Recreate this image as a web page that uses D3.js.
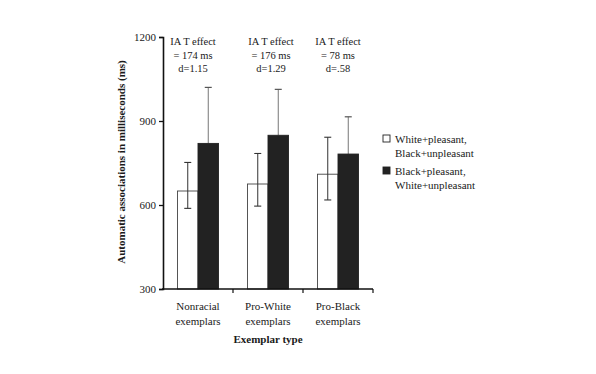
<!DOCTYPE html>
<html>
<head>
<meta charset="utf-8">
<script src="https://cdn.jsdelivr.net/npm/d3@7"></script>
<style>
  body { margin: 0; background: #fff; }
  text { font-family: "Liberation Serif", "Times New Roman", serif; fill: #1a1a1a; }
</style>
</head>
<body>
<svg id="chart" width="596" height="374"></svg>
<script>
// data
const categories = ["Nonracial exemplars", "Pro-White exemplars", "Pro-Black exemplars"];
const series = ["White+pleasant, Black+unpleasant", "Black+pleasant, White+unpleasant"];
const congruent = [650, 675, 710];        // white bars
const incongruent = [820, 849, 782];      // black bars
const congruentLow = [588, 596, 618];
const congruentHigh = [752, 784, 842];
const incongruentHigh = [1020, 1013, 915];
const effects = [["IA T effect", "= 174 ms", "d=1.15"],
                 ["IA T effect", "= 176 ms", "d=1.29"],
                 ["IA T effect", "= 78 ms", "d=.58"]];
const yTicks = [300, 600, 900, 1200];

const svg = d3.select("#chart");

const x0 = d3.scaleBand().domain(categories).range([163, 373]);
const x1 = d3.scaleBand().domain(series).range([14.5, 55.5]);
const y = d3.scaleLinear().domain([300, 1200]).range([289, 37]);

// bars
const rows = categories.map((c, i) => ({
    cat: c,
    vals: [
        {s: series[0], v: congruent[i], lo: congruentLow[i], hi: congruentHigh[i]},
        {s: series[1], v: incongruent[i], lo: incongruent[i], hi: incongruentHigh[i]}
    ]
}));

const groups = svg.selectAll("g.cat")
    .data(rows)
    .enter().append("g")
    .attr("class", "cat")
    .attr("transform", d => "translate(" + x0(d.cat) + ",0)");

// black bar error whisker (drawn first; lower part hidden by bar)
groups.each(function(d) {
    const g = d3.select(this);
    const b = d.vals[1];
    const cx = x1(b.s) + x1.bandwidth() / 2;
    g.append("line")
        .attr("x1", cx).attr("x2", cx)
        .attr("y1", y(b.v)).attr("y2", y(b.hi))
        .attr("stroke", "#777").attr("stroke-width", 1);
    g.append("line")
        .attr("x1", cx - 3.5).attr("x2", cx + 3.5)
        .attr("y1", y(b.hi)).attr("y2", y(b.hi))
        .attr("stroke", "#555").attr("stroke-width", 1.2);
});

groups.selectAll("rect")
    .data(d => d.vals)
    .enter().append("rect")
    .attr("x", d => x1(d.s))
    .attr("width", x1.bandwidth())
    .attr("y", d => y(d.v))
    .attr("height", d => y(300) - y(d.v))
    .attr("fill", (d, i) => i === 0 ? "#fff" : "#222")
    .attr("stroke", (d, i) => i === 0 ? "#444" : "#222")
    .attr("stroke-width", 0.9);

// white bar error bars
groups.each(function(d) {
    const g = d3.select(this);
    const b = d.vals[0];
    const cx = x1(b.s) + x1.bandwidth() / 2;
    g.append("line")
        .attr("x1", cx).attr("x2", cx)
        .attr("y1", y(b.lo)).attr("y2", y(b.hi))
        .attr("stroke", "#333").attr("stroke-width", 1);
    [b.lo, b.hi].forEach(v => {
        g.append("line")
            .attr("x1", cx - 3.5).attr("x2", cx + 3.5)
            .attr("y1", y(v)).attr("y2", y(v))
            .attr("stroke", "#333").attr("stroke-width", 1.1);
    });
});

// axes
const yAxis = d3.axisLeft(y).tickValues(yTicks).tickFormat(d3.format("d")).tickSize(4).tickPadding(3);
const ya = svg.append("g").attr("transform", "translate(163,0)").call(yAxis);
ya.select(".domain").attr("stroke", "#111").attr("stroke-width", 1.6);
ya.selectAll(".tick line").attr("stroke", "#111").attr("stroke-width", 1.3);
ya.selectAll(".tick text").style("font-size", "11px").style("font-family", "Liberation Serif, serif").attr("fill", "#222");

svg.append("line")
    .attr("x1", 162).attr("x2", 373)
    .attr("y1", y(300)).attr("y2", y(300))
    .attr("stroke", "#111").attr("stroke-width", 1.5);
categories.forEach((c, i) => {
    const xt = x0(c) + x0.bandwidth();
    svg.append("line")
        .attr("x1", xt).attr("x2", xt)
        .attr("y1", y(300)).attr("y2", y(300) + 4)
        .attr("stroke", "#111").attr("stroke-width", 1.2);
});

// category labels
categories.forEach(c => {
    const parts = c.split(" ");
    const cx = x0(c) + x0.bandwidth() / 2;
    parts.forEach((p, j) => {
        svg.append("text")
            .attr("x", cx).attr("y", 310 + j * 14.5)
            .attr("text-anchor", "middle")
            .style("font-size", "11px")
            .text(p);
    });
});

svg.append("text")
    .attr("x", 268).attr("y", 343)
    .attr("text-anchor", "middle")
    .style("font-size", "11px").style("font-weight", "bold")
    .text("Exemplar type");

svg.append("text")
    .attr("transform", "translate(125,162) rotate(-90)")
    .attr("text-anchor", "middle")
    .style("font-size", "11px").style("font-weight", "bold")
    .text("Automatic associations in milliseconds (ms)");

// IAT effect annotations
const annX = [193, 271, 338];
effects.forEach((lines, i) => {
    lines.forEach((t, j) => {
        svg.append("text")
            .attr("x", annX[i]).attr("y", 45 + j * 13.5)
            .attr("text-anchor", "middle")
            .style("font-size", "10.5px")
            .text(t);
    });
});

// legend
series.forEach((s, i) => {
    const ly = 139 + i * 32;
    svg.append("rect")
        .attr("x", 383).attr("y", ly - 4)
        .attr("width", 7).attr("height", 7)
        .attr("fill", i === 0 ? "#fff" : "#222")
        .attr("stroke", "#222").attr("stroke-width", 0.9);
    s.split(" ").forEach((p, j) => {
        svg.append("text")
            .attr("x", 395).attr("y", ly + 4 + j * 14)
            .style("font-size", "11px")
            .text(p);
    });
});
</script>
</body>
</html>
